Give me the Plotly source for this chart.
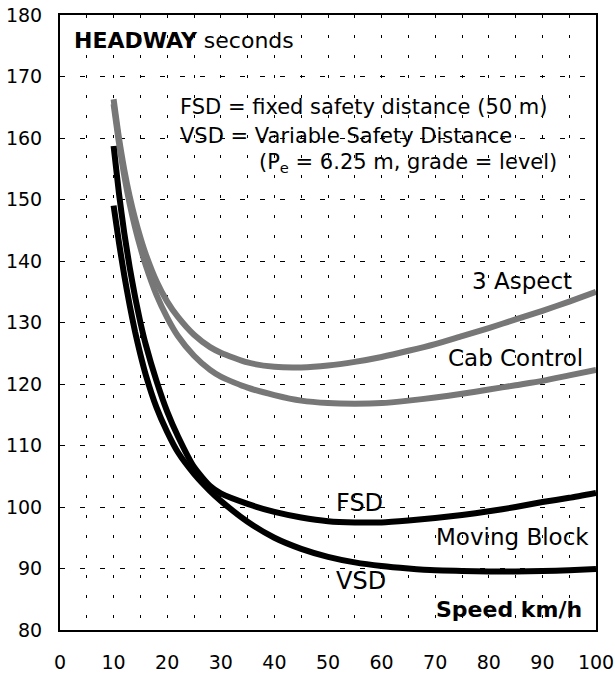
import plotly.graph_objects as go

# speed km/h
speed = [10, 11, 12, 13, 14, 15, 16, 18, 20, 22, 25, 28, 30, 35, 40, 45,
         50, 55, 60, 65, 70, 75, 80, 85, 90, 95, 100]

# headway seconds
aspect3 = [166.3, 160.0, 154.8, 150.5, 146.9, 143.8, 141.1, 136.7, 133.4, 130.9,
           128.0, 126.0, 125.1, 123.5, 122.8, 122.7, 123.0, 123.6, 124.4, 125.4,
           126.5, 127.8, 129.1, 130.5, 131.9, 133.4, 135.0]
cab_control = [165.5, 159.2, 153.8, 149.3, 145.5, 142.2, 139.3, 134.5, 130.8, 127.8,
               124.6, 122.3, 121.2, 119.4, 118.2, 117.3, 116.9, 116.8, 116.9, 117.3,
               117.8, 118.4, 119.1, 119.8, 120.5, 121.4, 122.3]
mb_fsd = [158.7, 151.0, 144.5, 139.0, 134.2, 130.0, 126.4, 120.5, 115.5, 111.5,
          106.5, 103.4, 102.2, 100.5, 99.2, 98.3, 97.7, 97.5, 97.5, 97.8,
          98.2, 98.7, 99.3, 100.0, 100.8, 101.5, 102.3]
mb_vsd = [149.0, 143.0, 137.6, 132.8, 128.5, 124.8, 121.5, 116.2, 112.2, 108.9,
          105.4, 102.6, 101.0, 97.6, 95.0, 93.2, 91.9, 91.0, 90.4, 90.0,
          89.7, 89.6, 89.5, 89.5, 89.6, 89.7, 89.9]

x_ticks = list(range(0, 101, 10))
y_ticks = list(range(80, 181, 10))

FONT = "DejaVu Sans"

fig = go.Figure()

for ys in (aspect3, cab_control):
    fig.add_trace(go.Scatter(x=speed, y=ys, mode='lines', showlegend=False,
                             line=dict(color='#777777', width=6, shape='spline', smoothing=0.6)))
for ys in (mb_fsd, mb_vsd):
    fig.add_trace(go.Scatter(x=speed, y=ys, mode='lines', showlegend=False,
                             line=dict(color='black', width=6, shape='spline', smoothing=0.6)))

# text labels
labels = [
    (2.2, 175.9, "<b>HEADWAY</b> seconds", 22, 'left'),
    (22.1, 165.1, "FSD = fixed safety distance (50 m)", 21, 'left'),
    (22.1, 160.3, "VSD = Variable Safety Distance", 21, 'left'),
    (36.8, 156.0, "(P<sub>e</sub> = 6.25 m, grade = level)", 21, 'left'),
    (86.2, 136.7, "3 Aspect", 23, 'center'),
    (85.0, 124.3, "Cab Control", 23, 'center'),
    (55.9, 100.6, "FSD", 24, 'center'),
    (84.4, 95.1, "Moving Block", 23, 'center'),
    (56.1, 88.0, "VSD", 24, 'center'),
    (83.8, 83.4, "<b>Speed km/h</b>", 22, 'center'),
]
for x, y, txt, size, anchor in labels:
    fig.add_annotation(x=x, y=y, text=txt, showarrow=False, xanchor=anchor, yanchor='middle',
                       font=dict(family=FONT, size=size, color='black'))

fig.update_layout(
    width=615, height=675,
    margin=dict(l=60, r=19, t=15, b=45, autoexpand=False),
    paper_bgcolor='white', plot_bgcolor='white',
    font=dict(family=FONT, size=19, color='black'),
    showlegend=False,
)
fig.update_xaxes(range=[0, 100], tickvals=x_ticks, ticks='', ticklabelstandoff=14,
                 automargin=False,
                 showline=True, linecolor='black', linewidth=2, mirror=True,
                 showgrid=True, gridcolor='black', gridwidth=1, griddash='3px,17px',
                 minor=dict(dtick=5, tick0=0, showgrid=True, gridcolor='black',
                            gridwidth=1, griddash='3px,17px'),
                 zeroline=False)
fig.update_yaxes(range=[80, 180], tickvals=y_ticks, ticks='', ticklabelstandoff=12,
                 automargin=False,
                 showline=True, linecolor='black', linewidth=2, mirror=True,
                 showgrid=True, gridcolor='black', gridwidth=1, griddash='5px,15px',
                 zeroline=False)

# drop the default page margin so the figure sits at the window's corner
fig.write_html("out.html", config={'displayModeBar': False},
               post_script="document.body.style.margin='0';document.body.style.overflow='hidden';")
